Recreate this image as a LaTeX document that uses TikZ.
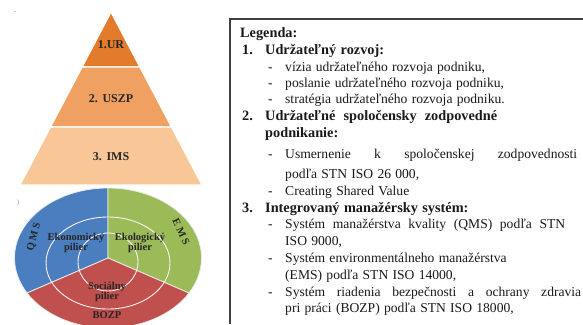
\documentclass[tikz,border=0pt]{standalone}
\usepackage{fontspec}
\setmainfont[WordSpace=1.25]{Liberation Serif}
\usepackage{xcolor}
\newcommand{\legendfont}{\linespread{1}\fontsize{13.6}{17}\selectfont}
\newcommand{\legendbold}{\linespread{1}\fontsize{14.3}{17}\selectfont\bfseries}
\newcommand{\levelfont}{\linespread{1}\fontsize{12}{13}\selectfont\bfseries}
\newcommand{\pillarfont}{\linespread{1}\fontsize{10.5}{10.5}\selectfont\bfseries}
\definecolor{pyrtop}{HTML}{E37B2C}
\definecolor{pyrmid}{HTML}{F0A060}
\definecolor{pyrlow}{HTML}{F9C797}
\definecolor{qmsblue}{HTML}{4A7EBF}
\definecolor{emsgreen}{HTML}{9BBB59}
\definecolor{bozpred}{HTML}{C0504D}
\tikzset{
    csr/chart/.style={x=1pt, y=-1pt, every node/.style={inner sep=0pt}},
    csr/layer/.style={draw=white, line width=1.3pt},
    csr/sector/.style={draw=white!92!black, line width=0.8pt},
    csr/ring/.style={draw=white!94!red, line width=0.9pt},
    csr/level/.style={font=\levelfont, text=black!85},
    csr/pillar/.style={font=\pillarfont, text=black!85, align=center},
    csr/frame/.style={draw=black!75, line width=1.1pt},
    csr/head/.style={font=\legendbold, text=black!90, anchor=base west},
    csr/item/.style={font=\legendfont, text=black!90, anchor=base west},
    csr/mark/.style={font=\fontsize{7}{8}\selectfont, text=black!45}
}

\begin{document}
\begin{tikzpicture}[csr/chart]
    \useasboundingbox (0,0) rectangle (583,324);
    \filldraw[csr/layer, fill=pyrtop] (111,12) -- (139.9,67) -- (82.1,67) -- cycle;
    \filldraw[csr/layer, fill=pyrmid] (82.1,67) -- (139.9,67) -- (171.5,127) -- (50.5,127) -- cycle;
    \filldraw[csr/layer, fill=pyrlow] (50.5,127) -- (171.5,127) -- (202,185) -- (20,185) -- cycle;
    \node[csr/level] (lur) at (111,45) {1.UR};
    \node[csr/level] (luszp) at (111,99) {2. USZP};
    \node[csr/level] (lims) at (111,157) {3. IMS};
    \node[csr/mark] (mark1) at (15,13) {-};
    \node[csr/mark] (mark2) at (18,203) {)};
    \coordinate (hub) at (108,258);
    \foreach \from/\to/\col in {270/150/qmsblue,270/390/emsgreen,30/150/bozpred}
        \filldraw[csr/sector, fill=\col] (hub) -- ++(\from:93.5 and 70) arc[start angle=\from, end angle=\to, x radius=93.5, y radius=70] -- cycle;
    \draw[csr/ring] (108,263) ellipse[x radius=62, y radius=46];
    \draw[csr/ring] (108,262) ellipse[x radius=30, y radius=29];
    \node[csr/pillar] (econ) at (76,243) {Ekonomický\\pilier};
    \node[csr/pillar] (ecol) at (140,243) {Ekologický\\pilier};
    \node[csr/pillar] (soc) at (107,292) {Sociálny\\pilier};
    \node[csr/pillar] (bozp) at (107,315) {BOZP};
    \node[csr/pillar, rotate=75] (qms) at (34,237) {Q\hspace{2.5pt}M\hspace{2.5pt}S};
    \node[csr/pillar, rotate=-65] (ems) at (181,232) {E\hspace{2.5pt}M\hspace{2.5pt}S};
    \draw[csr/frame] (583,19) -- (230,19) -- (230,324);
    \node[csr/head] (legend) at (240,37) {Legenda:};
    \node[csr/head] (num1) at (242,54) {1.};
    \node[csr/head] (head1) at (265,54) {Udržateľný rozvoj:};
    \node[csr/head] (num2) at (242,120) {2.};
    \node[csr/head] (head2) at (265,120) {\hbox to 232pt{Udržateľné spoločensky zodpovedné}};
    \node[csr/head] (head2b) at (265,137) {podnikanie:};
    \node[csr/head] (num3) at (242,212) {3.};
    \node[csr/head] (head3) at (265,212) {Integrovaný manažérsky systém:};
    \foreach \y/\txt [count=\i] in {71/{vízia udržateľného rozvoja podniku,},87/{poslanie udržateľného rozvoja podniku,},103/{stratégia udržateľného rozvoja podniku.},158/{\hbox to 292pt{Usmernenie k spoločenskej zodpovednosti}},195/{Creating Shared Value},228/{\hbox to 280pt{Systém manažérstva kvality (QMS) podľa STN}},262/{Systém environmentálneho manažérstva},296/{\hbox to 296pt{Systém riadenia bezpečnosti a ochrany zdravia}}}
    {
        \node[csr/item] (dash\i) at (268,\y) {-};
        \node[csr/item] (item\i) at (285,\y) {\txt};
    }
    \node[csr/item] (more1) at (285,178) {podľa STN ISO 26 000,};
    \node[csr/item] (more2) at (285,245) {ISO 9000,};
    \node[csr/item] (more3) at (285,279) {(EMS) podľa STN ISO 14000,};
    \node[csr/item] (more4) at (285,312) {pri práci (BOZP) podľa STN ISO 18000,};
\end{tikzpicture}
\end{document}
